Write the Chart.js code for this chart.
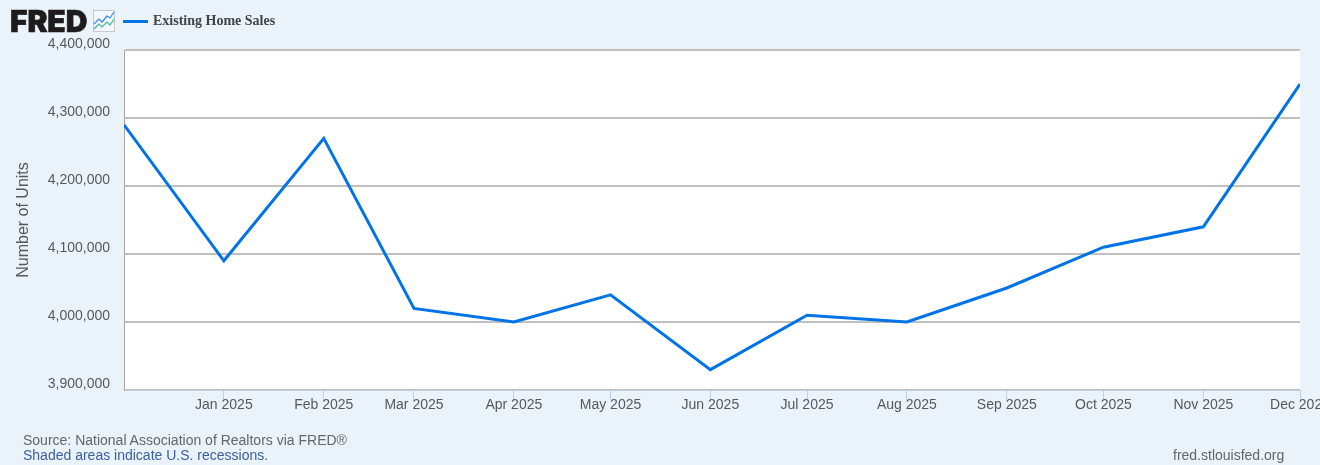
<!DOCTYPE html>
<html>
<head>
<meta charset="utf-8">
<title>Existing Home Sales</title>
<script src="https://cdn.jsdelivr.net/npm/chart.js@4"></script>
<style>
    html, body { margin: 0; padding: 0; background: #eaf2fa; }
    #wrap { position: relative; width: 1320px; height: 465px; overflow: hidden; font-family: "Liberation Sans", Arial, sans-serif; }
    #homeSalesChart { position: absolute; left: 0; top: 0; }
    .txt { position: absolute; white-space: nowrap; }
    #logo { left: 10px; top: 4px; font: 900 30px/34px Inter, "Liberation Sans", sans-serif; color: #1d1b1b; letter-spacing: -0.1px; -webkit-text-stroke: 0.6px #1d1b1b; }
    #logoIcon { position: absolute; left: 93px; top: 10px; }
    #legendKey { position: absolute; left: 123px; top: 20px; width: 25px; height: 3px; background: #0073e6; }
    #legendText { left: 153px; top: 13px; font: bold 14px/16px "Liberation Serif", "Times New Roman", serif; color: #444444; }
    #source { left: 23px; top: 432px; font-size: 14px; line-height: 16px; color: #666666; }
    #recess { left: 23px; top: 447px; font-size: 14px; line-height: 16px; color: #3b5f9f; }
    #site { left: 1173px; top: 447px; font-size: 14px; line-height: 16px; color: #666666; }
</style>
</head>
<body>
<div id="wrap">
    <canvas id="homeSalesChart" width="1320" height="465"></canvas>
    <div class="txt" id="logo">FRED</div>
    <svg id="logoIcon" width="23" height="23" viewBox="0 0 23 23">
        <rect x="0.5" y="0.5" width="21" height="21" fill="#f4f8fc" stroke="#c8c8c8"></rect>
        <polyline points="1,14 6,9 9,12 14,6 17,8 21,2" fill="none" stroke="#2c8be8" stroke-width="1.2"></polyline>
        <polyline points="1,19 6,14 9,17 14,12 17,15 21,9" fill="none" stroke="#45b598" stroke-width="1.2"></polyline>
    </svg>
    <div id="legendKey"></div>
    <div class="txt" id="legendText">Existing Home Sales</div>
    <div class="txt" id="source">Source: National Association of Realtors via FRED®</div>
    <div class="txt" id="recess">Shaded areas indicate U.S. recessions.</div>
    <div class="txt" id="site">fred.stlouisfed.org</div>
</div>
<script>
const seriesDates = [
    '2024-12-01', '2025-01-01', '2025-02-01', '2025-03-01', '2025-04-01', '2025-05-01', '2025-06-01',
    '2025-07-01', '2025-08-01', '2025-09-01', '2025-10-01', '2025-11-01', '2025-12-01'
];
const homeSales = [
    4290000, 4090000, 4270000, 4020000, 4000000, 4040000, 3930000,
    4010000, 4000000, 4050000, 4110000, 4140000, 4350000
];
const tickDates = [
    '2025-01-01', '2025-02-01', '2025-03-01', '2025-04-01', '2025-05-01', '2025-06-01',
    '2025-07-01', '2025-08-01', '2025-09-01', '2025-10-01', '2025-11-01', '2025-12-01'
];
const tickLabels = [
    'Jan 2025', 'Feb 2025', 'Mar 2025', 'Apr 2025', 'May 2025', 'Jun 2025',
    'Jul 2025', 'Aug 2025', 'Sep 2025', 'Oct 2025', 'Nov 2025', 'Dec 2025'
];
const yTicks = [3900000, 4000000, 4100000, 4200000, 4300000, 4400000];

// no date adapter in the sandbox, so the x axis is days since the first observation
function dayNumber(iso) {
    return (Date.parse(iso) - Date.parse(seriesDates[0])) / 86400000;
}

const plotBackground = {
    id: 'plotBackground',
    beforeDraw(chart) {
        const { ctx, chartArea } = chart;
        ctx.save();
        ctx.fillStyle = '#ffffff';
        ctx.fillRect(chartArea.left, chartArea.top, chartArea.width, chartArea.height);
        ctx.restore();
    }
};

function createHomeSalesChart() {
    const ctx = document.getElementById('homeSalesChart').getContext('2d');
    const tickFont = { family: '"Liberation Sans", Arial, sans-serif', size: 14 };

    return new Chart(ctx, {
        type: 'line',
        data: {
            datasets: [{
                label: 'Existing Home Sales',
                data: seriesDates.map((d, i) => ({ x: dayNumber(d), y: homeSales[i] })),
                borderColor: '#0073e6',
                borderWidth: 3,
                pointRadius: 0,
                tension: 0,
                borderJoinStyle: 'miter'
            }]
        },
        options: {
            responsive: false,
            animation: false,
            layout: { padding: { top: 50, right: 20, left: 0, bottom: 0 } },
            plugins: {
                legend: { display: false },
                tooltip: { enabled: false }
            },
            scales: {
                x: {
                    type: 'linear',
                    min: 0,
                    max: dayNumber(tickDates[tickDates.length - 1]),
                    afterBuildTicks(scale) {
                        scale.ticks = tickDates.map(d => ({ value: dayNumber(d) }));
                    },
                    afterFit(scale) {
                        scale.height = 75;
                        scale.paddingLeft = 0;
                        scale.paddingRight = 0;
                    },
                    border: { color: '#c0cfe2', width: 1 },
                    grid: {
                        drawOnChartArea: false,
                        drawTicks: true,
                        tickLength: 10,
                        color: '#c0cfe2'
                    },
                    ticks: {
                        autoSkip: false,
                        maxRotation: 0,
                        padding: -3,
                        color: '#595959',
                        font: tickFont,
                        callback: (value, index) => tickLabels[index]
                    }
                },
                y: {
                    min: yTicks[0],
                    max: yTicks[yTicks.length - 1],
                    afterBuildTicks(scale) {
                        scale.ticks = yTicks.map(v => ({ value: v }));
                    },
                    afterFit(scale) {
                        scale.width = 124;
                        scale.paddingTop = 0;
                        scale.paddingBottom = 0;
                    },
                    border: { color: '#a6a6a6', width: 1 },
                    grid: {
                        color: '#c0c0c0',
                        lineWidth: 2,
                        drawTicks: false
                    },
                    title: {
                        display: true,
                        text: 'Number of Units',
                        color: '#595959',
                        padding: { top: 14, bottom: 0 },
                        font: { family: tickFont.family, size: 16 }
                    },
                    ticks: {
                        padding: 14,
                        color: '#595959',
                        // the blank second line lifts the label above its gridline, as in the original
                        font: { family: tickFont.family, size: 14, lineHeight: '12px' },
                        callback: value => [value.toLocaleString('en-US'), '']
                    }
                }
            }
        },
        plugins: [plotBackground]
    });
}

document.addEventListener('DOMContentLoaded', createHomeSalesChart);
</script>
</body>
</html>
